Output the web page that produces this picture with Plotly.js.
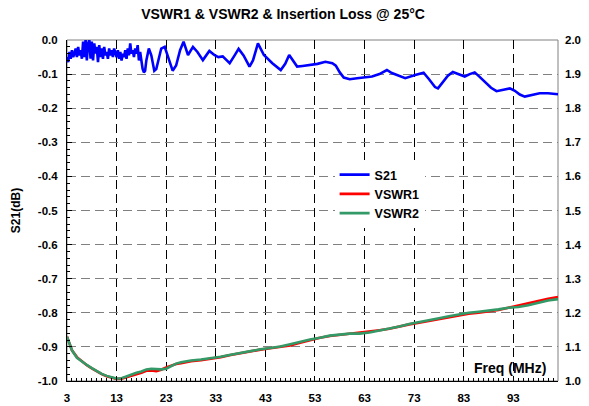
<!DOCTYPE html>
<html>
<head>
<meta charset="utf-8">
<script src="https://cdn.plot.ly/plotly-3.0.1.min.js"></script>
<style>html,body{margin:0;padding:0;background:#fff;}#chart{width:589px;height:406px;}</style>
</head>
<body>
<div id="chart"></div>
<script>
var freqS21 = [3.0,3.25,3.5,3.75,4.0,4.25,4.5,4.75,5.0,5.25,5.5,5.75,6.0,6.25,6.5,6.75,7.0,7.25,7.5,7.75,8.0,8.25,8.5,8.75,9.0,9.25,9.5,9.75,10.0,10.25,10.5,10.75,11.0,11.25,11.5,11.75,12.0,12.25,12.5,12.75,13.0,13.25,13.5,13.75,14.0,14.25,14.5,14.75,15.0,15.25,15.5,15.75,16.0,16.25,16.5,16.75,17.0,17.25,17.5,17.75,18.0,18.25,18.5,18.75,19.0,19.5,20.0,20.6,21.0,21.5,22.0,22.7,23.3,24.3,25.0,25.8,26.5,27.4,28.4,29.3,30.4,31.0,31.7,32.7,33.5,34.4,35.8,36.8,37.6,38.6,39.8,40.5,41.5,42.7,44.4,46.1,47.0,47.8,48.6,49.4,50.5,52.1,53.5,55.1,56.5,57.2,58.0,58.8,60.0,61.5,63.0,64.5,66.0,67.5,68.5,69.6,71.2,73.2,74.9,76.0,77.2,77.8,78.8,79.8,80.8,82.0,83.2,84.2,85.2,86.2,87.2,88.5,89.6,91.0,92.3,93.3,94.3,95.3,96.8,98.3,100.0,101.0,102.0];
var s21 = [-0.05,-0.065,-0.035,-0.055,-0.03,-0.05,-0.04,-0.025,-0.05,-0.02,-0.045,-0.03,-0.055,-0.005,-0.05,0.0,-0.06,-0.01,0.0,-0.055,-0.005,-0.06,-0.01,-0.04,-0.02,-0.065,-0.015,-0.05,-0.025,-0.055,-0.02,-0.045,-0.035,-0.055,-0.025,-0.045,-0.03,-0.05,-0.025,-0.04,-0.05,-0.03,-0.055,-0.035,-0.06,-0.04,-0.05,-0.03,-0.055,-0.025,-0.045,-0.01,-0.04,-0.03,-0.05,-0.025,-0.04,-0.015,-0.06,-0.035,-0.065,-0.085,-0.095,-0.09,-0.06,-0.025,-0.045,-0.09,-0.085,-0.05,-0.025,-0.02,-0.045,-0.09,-0.075,-0.03,-0.005,-0.044,-0.02,-0.035,-0.059,-0.045,-0.032,-0.044,-0.05,-0.048,-0.068,-0.045,-0.026,-0.045,-0.078,-0.06,-0.01,-0.044,-0.068,-0.088,-0.07,-0.044,-0.06,-0.078,-0.076,-0.073,-0.07,-0.064,-0.068,-0.075,-0.095,-0.11,-0.115,-0.112,-0.11,-0.107,-0.1,-0.088,-0.097,-0.104,-0.112,-0.103,-0.096,-0.115,-0.138,-0.142,-0.125,-0.105,-0.094,-0.1,-0.107,-0.1,-0.095,-0.108,-0.122,-0.14,-0.15,-0.146,-0.142,-0.149,-0.16,-0.166,-0.162,-0.156,-0.156,-0.158,-0.159];

var freqVswr = [3,4,5,6,7,8,9,10,11,12,13,14,15,16,17,18,19,20,21,22,23,24,25,26,27,28,30,32,34,36,38,40,42,44,46,48,50,52,54,56,58,60,62,64,66,68,70,72,74,76,78,80,82,84,86,88,90,92,94,96,98,100,102];
var vswr1 = [1.13,1.09,1.07,1.057,1.046,1.037,1.028,1.02,1.014,1.009,1.006,1.007,1.011,1.015,1.019,1.024,1.03,1.031,1.029,1.033,1.04,1.045,1.05,1.052,1.055,1.058,1.061,1.065,1.07,1.076,1.082,1.087,1.092,1.096,1.099,1.104,1.112,1.12,1.127,1.132,1.135,1.138,1.142,1.145,1.149,1.153,1.16,1.166,1.171,1.176,1.182,1.188,1.193,1.197,1.2,1.203,1.208,1.215,1.222,1.228,1.235,1.241,1.246];
var vswr2 = [1.13,1.09,1.068,1.057,1.047,1.038,1.029,1.021,1.015,1.01,1.007,1.008,1.014,1.019,1.024,1.028,1.034,1.036,1.034,1.034,1.036,1.043,1.051,1.055,1.058,1.06,1.063,1.066,1.071,1.077,1.083,1.088,1.093,1.097,1.101,1.108,1.116,1.122,1.127,1.133,1.136,1.139,1.139,1.142,1.148,1.153,1.16,1.167,1.172,1.178,1.184,1.19,1.196,1.2,1.203,1.206,1.21,1.215,1.217,1.222,1.23,1.236,1.24];

var xTickVals = [3,13,23,33,43,53,63,73,83,93];
var xTickText = ['3','13','23','33','43','53','63','73','83','93'];
var yTickVals = [0,-0.1,-0.2,-0.3,-0.4,-0.5,-0.6,-0.7,-0.8,-0.9,-1.0];
var yTickText = ['0.0','-0.1','-0.2','-0.3','-0.4','-0.5','-0.6','-0.7','-0.8','-0.9','-1.0'];
var y2TickVals = [1.0,1.1,1.2,1.3,1.4,1.5,1.6,1.7,1.8,1.9,2.0];
var y2TickText = ['1.0','1.1','1.2','1.3','1.4','1.5','1.6','1.7','1.8','1.9','2.0'];

var FONT = 'Liberation Sans, Arial, Helvetica, sans-serif';
var tf = {family: FONT, size: 11.5, color: '#000', weight: 'bold'};

var traces = [
  {x: freqS21, y: s21, name: 'S21', type: 'scatter', mode: 'lines', line: {color: '#0000ff', width: 2.6}, yaxis: 'y'},
  {x: freqVswr, y: vswr1, name: 'VSWR1', type: 'scatter', mode: 'lines', line: {color: '#ff0000', width: 2.6}, yaxis: 'y2'},
  {x: freqVswr, y: vswr2, name: 'VSWR2', type: 'scatter', mode: 'lines', line: {color: '#339966', width: 2.6}, yaxis: 'y2'}
];

var layout = {
  width: 589, height: 406,
  margin: {l: 67, r: 31, t: 40, b: 25, pad: 0},
  paper_bgcolor: '#fff', plot_bgcolor: '#fff',
  showlegend: true,
  title: {text: 'VSWR1 & VSWR2 & Insertion Loss @ 25°C', font: {family: FONT, size: 14, color: '#000', weight: 'bold'}, xref: 'container', x: 0.4805, xanchor: 'center', yref: 'container', y: 0.966, yanchor: 'middle'},
  xaxis: {range: [3, 102], tickvals: xTickVals, ticktext: xTickText, tickfont: tf, ticklabelstandoff: 6,
    showgrid: true, gridcolor: '#000', gridwidth: 1, griddash: '9px,5px',
    ticks: 'inside', ticklen: 5, tickcolor: '#000', showline: true, linecolor: '#000', linewidth: 1,
    minor: {dtick: 1, tick0: 3, ticks: 'inside', ticklen: 3, tickcolor: '#000', showgrid: false},
    zeroline: false, fixedrange: true},
  yaxis: {range: [-1, 0], tickvals: yTickVals, ticktext: yTickText, tickfont: tf, ticklabelstandoff: 6,
    showgrid: true, gridcolor: '#808080', gridwidth: 1, griddash: '9px,5px',
    ticks: 'inside', ticklen: 5, tickcolor: '#000', showline: true, linecolor: '#000', linewidth: 1,
    minor: {dtick: 0.02, tick0: 0, ticks: 'inside', ticklen: 3, tickcolor: '#000', showgrid: false},
    zeroline: false, fixedrange: true,
    title: {text: 'S21(dB)', font: {family: FONT, size: 12, color: '#000', weight: 'bold'}, standoff: 14}},
  yaxis2: {range: [1, 2], overlaying: 'y', side: 'right', tickvals: y2TickVals, ticktext: y2TickText, tickfont: tf, ticklabelstandoff: 6,
    showgrid: false, ticks: '', showline: false, zeroline: false, fixedrange: true},
  legend: {x: 0.545, xanchor: 'left', y: 0.648, yanchor: 'top', bgcolor: '#fff', borderwidth: 0,
    font: {family: FONT, size: 12.5, color: '#000', weight: 'bold'}, tracegroupgap: 0},
  shapes: [{type: 'rect', xref: 'paper', yref: 'paper', x0: 0, x1: 1, y0: 0, y1: 1, line: {color: '#808080', width: 1}, layer: 'below'}],
  annotations: [{text: 'Freq (MHz)', xref: 'paper', yref: 'paper', x: 0.98, y: 0.038, xanchor: 'right', yanchor: 'middle', showarrow: false,
    font: {family: FONT, size: 14, color: '#000', weight: 'bold'}}]
};

Plotly.newPlot('chart', traces, layout, {displayModeBar: false, staticPlot: true});
</script>
</body>
</html>
